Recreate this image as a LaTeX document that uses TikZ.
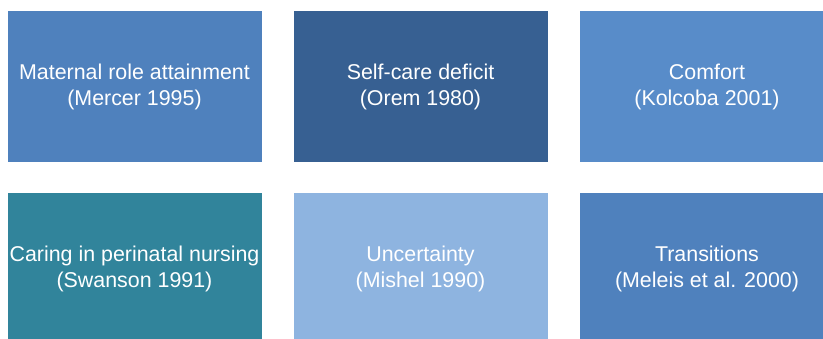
\documentclass[tikz,border=0pt]{standalone}
\usepackage{fontspec}
\setmainfont{Liberation Sans}
\definecolor{cA}{HTML}{4F81BD}
\definecolor{cB}{HTML}{376092}
\definecolor{cC}{HTML}{588CC9}
\definecolor{cD}{HTML}{31849B}
\definecolor{cE}{HTML}{8EB4E0}
\definecolor{cF}{HTML}{4F81BD}
\tikzset{
  box/.style={fill=#1, draw=none, minimum width=254pt, minimum height=151pt,
    inner sep=0pt, text=white, align=center,
    font=\fontsize{21.4pt}{26pt}\selectfont}
}
\begin{document}
\begin{tikzpicture}[x=1pt,y=-1pt]
\useasboundingbox (0,0) rectangle (823,338);
\clip (0,0) rectangle (823,338);
\node[box=cA] (m) at (134.5,86.5) {Maternal role attainment\\(Mercer 1995)};
\node[box=cB] (s) at (420.5,86.5) {Self-care deficit\\(Orem 1980)};
\node[box=cC] (c) at (707,86.5) {Comfort\\(Kolcoba 2001)};
\node[box=cD] (p) at (134.5,268.5) {Caring in perinatal nursing\\(Swanson 1991)};
\node[box=cE] (u) at (420.5,268.5) {Uncertainty\\(Mishel 1990)};
\node[box=cF] (t) at (707,268.5) {Transitions\\(Meleis et al. 2000)};
\end{tikzpicture}
\end{document}
